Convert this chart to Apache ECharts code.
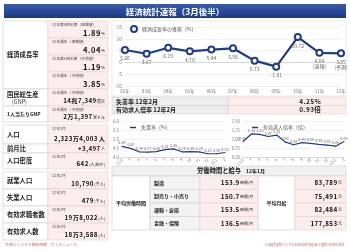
<!DOCTYPE html>
<html><head><meta charset="utf-8">
<script src="https://cdn.jsdelivr.net/npm/echarts@6/dist/echarts.min.js"></script>
<style>html,body{margin:0;padding:0;background:#fff}#c{width:350px;height:251px}</style>
</head><body><div id="c"></div>
<script>
// ---------- data ----------
const growthCategories = ['02年','03年','04年','05年','06年','07年','08年','09年','10年','11年','12年'];
const growthValues = [5.26,3.67,6.19,4.70,5.44,5.98,0.73,-1.81,10.72,4.04,3.85];
const growthNotes = ['','','','','','','','','','(速報)','(予測)'];
const monthCategories = ['11/2','3','4','5','6','7','8','9','10','11','12','12/1','2'];
const unemploymentRate = [4.59,4.48,4.29,4.27,4.30,4.41,4.45,4.29,4.30,4.28,4.18,4.18,4.25];
const jobOfferRatio = [0.93,1.14,1.13,1.07,1.11,0.92,0.84,0.90,0.88,0.85,0.83,0.80,0.93];

const leftHeads = ['経済成長率','国民総生産','1人当たりGNP','人口','前月比','人口密度','就業人口','失業人口','有効求職者数','有効求人数'];
const valueNotes = ['11年第4四半期（速報値）','11年通年（速報値）','12年第1四半期（予測値）','12年通年（予測値）','12年通年（予測値）','12年通年（予測値）','12年2月','','12年2月','12年2月','12年2月','12年2月','12年2月'];
const valueNumbers = ['1.89','4.04','1.19','3.85','14兆7,349','2万1,397','2,323万4,003','+3,497','642','10,790','479','19万8,022','18万3,588'];
const valueUnits = ['%','%','%','%','億元','米ドル','人','人','(人/km²)','(千人)','(千人)','(人)','(人)'];

const rateHeads = ['失業率 12年2月','有効求人倍率 12年2月'];
const rateValues = ['4.25%','0.93倍'];

const laborTitle = '労働時間と給与';
const laborMonth = '12年1月';
const laborIndustries = ['製造','卸売り・小売り','運輸・倉庫','金融・保険'];
const laborHours = ['153.9','150.7','153.5','136.5'];
const laborWages = ['83,789','75,491','82,484','177,853'];

// ---------- layout helpers ----------
const FF = "'Noto Sans CJK JP','Noto Sans',sans-serif";
const NAVY = '#1f3c88';
const PINK = '#fdeeee', PINKB = '#e9cccc', GRAYB = '#cfcfcf';
const sp = s => s.split('').join('\u200a');
const g = [];
function rect(x,y,w,h,fill,stroke){g.push({type:'rect',silent:true,shape:{x,y,width:w,height:h},style:{fill,stroke:stroke||GRAYB,lineWidth:0.6}});}
function text(x,y,t,size,opt){opt=opt||{};g.push({type:'text',silent:true,x,y,style:Object.assign({text:t,fontSize:size,fontFamily:FF,fill:opt.fill||'#222',fontWeight:opt.bold?'bold':'normal',align:opt.align||'left',verticalAlign:opt.va||'middle'},opt.extra||{})});}

// title bar
g.push({type:'rect',silent:true,shape:{x:4,y:4,width:342,height:14},style:{fill:new echarts.graphic.LinearGradient(0,0,0,1,[{offset:0,color:'#3a5cab'},{offset:1,color:'#1b3985'}])}});
text(175,11.5,'経済統計速報（3月後半）',8.5,{fill:'#fff',bold:true,align:'center'});

// left table rows [top,height]
const rows = [[21,17],[38,17],[55,17],[72,17],[89,17],[106,16],[125,19],[144,9],[153,16],[172,17],[189,17],[206,17],[223,17]];
const headRows = [[0,4],[4,1],[5,1],[6,1],[7,1],[8,1],[9,1],[10,1],[11,1],[12,1]];
const LX=3, LW=45, VX=48, VW=60;
headRows.forEach((hr,i)=>{
  const top=rows[hr[0]][0], last=rows[hr[0]+hr[1]-1], h=last[0]+last[1]-top;
  rect(LX,top,LW,h,'#fff');
  if(i===1){
    text(LX+4,top+h/2-3,leftHeads[i],6.3,{bold:true});
    text(LX+9,top+h/2+4,'(GNP)',5.5,{fill:'#333'});
  } else if(i===2){
    text(LX+4,top+h/2,leftHeads[i],5,{bold:true});
  } else {
    text(LX+4,top+h/2,leftHeads[i],6.3,{bold:true});
  }
});
rows.forEach((r,i)=>{
  rect(VX,r[0],VW,r[1],PINK,PINKB);
  if(valueNotes[i]) text(VX+4,r[0]+4,valueNotes[i],3.8,{fill:'#444'});
  const big = i===6;
  g.push({type:'text',silent:true,x:VX+VW-3,y:r[0]+r[1]-(r[1]<12?4.5:5),style:{
    text:'{n|'+sp(valueNumbers[i])+'}{u| '+valueUnits[i]+'}',align:'right',verticalAlign:'middle',fontFamily:FF,
    rich:{n:{fontSize:i<4?7.6:6.2,fontWeight:'bold',fill:'#111',fontFamily:FF},u:{fontSize:big?6.2:4,fontWeight:big?'bold':'normal',fill:'#111',fontFamily:FF}}}});
});

// top chart box
rect(112,21,234,75,'rgba(0,0,0,0)','#dcdcdc');

// rate rows
[[97,8.5],[105.5,8.5]].forEach((r,i)=>{
  rect(112,r[0],116,r[1],'#eeeeee');
  rect(228,r[0],118,r[1],PINK,PINKB);
  text(116,r[0]+r[1]/2,rateHeads[i],6,{bold:true});
  text(310,r[0]+r[1]/2,sp(rateValues[i]),6.5,{bold:true,align:'center'});
});

// labor table
const TX=112, TY=166;
rect(TX,TY,234,10,'#f1f1f1');
g.push({type:'text',silent:true,x:231,y:TY+5,style:{text:'{a|'+laborTitle+'}{b|　'+laborMonth+'}',align:'center',verticalAlign:'middle',fontFamily:FF,rich:{a:{fontSize:6.3,fontWeight:'bold',fill:'#111',fontFamily:FF},b:{fontSize:5,fontWeight:'bold',fill:'#111',fontFamily:FF}}}});
const cols=[112,150,200,258,295,346];
const rh=13.5, r0=TY+10;
rect(cols[0],r0,cols[1]-cols[0],rh*4,'#fff');
text((cols[0]+cols[1])/2,r0+rh*2,'平均労働時間',5,{bold:true,align:'center'});
rect(cols[3],r0,cols[4]-cols[3],rh*4,'#fff');
text((cols[3]+cols[4])/2,r0+rh*2,'平均月給',5,{bold:true,align:'center'});
laborIndustries.forEach((name,i)=>{
  const y=r0+i*rh;
  rect(cols[1],y,cols[2]-cols[1],rh,'#f3f3f3');
  text(cols[1]+4,y+rh/2,name,5,{bold:true});
  rect(cols[2],y,cols[3]-cols[2],rh,PINK,PINKB);
  g.push({type:'text',silent:true,x:cols[3]-5,y:y+rh/2,style:{text:'{n|'+sp(laborHours[i])+'}{u| 時間/月}',align:'right',verticalAlign:'middle',fontFamily:FF,rich:{n:{fontSize:6.3,fontWeight:'bold',fill:'#111',fontFamily:FF},u:{fontSize:3.8,fill:'#111',fontFamily:FF}}}});
  rect(cols[4],y,cols[5]-cols[4],rh,PINK,PINKB);
  g.push({type:'text',silent:true,x:cols[5]-4,y:y+rh/2,style:{text:'{n|'+sp(laborWages[i])+'}{u| 元}',align:'right',verticalAlign:'middle',fontFamily:FF,rich:{n:{fontSize:6.3,fontWeight:'bold',fill:'#111',fontFamily:FF},u:{fontSize:4,fill:'#111',fontFamily:FF}}}});
});

// footer
text(5,245,'台湾ビジネスの最新情報　ワイズニュース',3.8,{fill:'#c66'});
text(345,245,"Copyright (C) Y's consulting all right reserved.",3.8,{fill:'#c66',align:'right'});

// ---------- chart ----------
const axisLabelBase = {color:'#777',fontFamily:FF};
const chart = echarts.init(document.getElementById('c'),null,{renderer:'canvas'});
chart.setOption({
  animation:false,
  backgroundColor:'#fff',
  grid:[
    {left:125,top:27,width:216,height:59},
    {left:122,top:121,width:103,height:36},
    {left:243,top:121,width:101,height:36}
  ],
  legend:[
    {data:[{name:'経済成長率の推移（%）',icon:'emptyCircle'}],left:130,top:25,itemWidth:6,itemHeight:6,itemGap:4,padding:0,textStyle:{fontSize:5,color:'#555',fontFamily:FF}},
    {data:[{name:'失業率（%）',icon:'rect'}],left:130,top:125,itemWidth:6,itemHeight:1.5,padding:0,textStyle:{fontSize:5,color:'#555',fontFamily:FF}},
    {data:[{name:'有効求人倍率（倍）',icon:'rect'}],left:252,top:125,itemWidth:6,itemHeight:1.5,padding:0,textStyle:{fontSize:5,color:'#555',fontFamily:FF}}
  ],
  xAxis:[
    {gridIndex:0,type:'category',data:growthCategories,boundaryGap:false,axisTick:{show:false},axisLine:{lineStyle:{color:'#d8d8d8'}},axisLabel:Object.assign({fontSize:4.5,margin:3},axisLabelBase)},
    {gridIndex:1,type:'category',data:monthCategories,boundaryGap:false,axisTick:{show:false},axisLine:{lineStyle:{color:'#d8d8d8'}},axisLabel:Object.assign({fontSize:3.8,margin:2,rotate:45,interval:0},axisLabelBase)},
    {gridIndex:2,type:'category',data:monthCategories,boundaryGap:false,axisTick:{show:false},axisLine:{lineStyle:{color:'#d8d8d8'}},axisLabel:Object.assign({fontSize:3.8,margin:2,rotate:45,interval:0},axisLabelBase)}
  ],
  yAxis:[
    {gridIndex:0,type:'value',min:-10,max:15,interval:5,axisLabel:Object.assign({fontSize:5,margin:3},axisLabelBase),splitLine:{lineStyle:{color:'#e6e6e6',width:0.6}}},
    {gridIndex:1,type:'value',min:4,max:6,interval:0.5,axisLabel:Object.assign({fontSize:4.3,margin:3,formatter:v=>v.toFixed(1)},axisLabelBase),splitLine:{lineStyle:{color:'#e6e6e6',width:0.6}}},
    {gridIndex:2,type:'value',min:0.5,max:1.5,interval:0.25,axisLabel:Object.assign({fontSize:4.3,margin:3,formatter:v=>v.toFixed(2)},axisLabelBase),splitLine:{lineStyle:{color:'#e6e6e6',width:0.6}}}
  ],
  series:[
    {name:'経済成長率の推移（%）',type:'line',xAxisIndex:0,yAxisIndex:0,data:growthValues,symbol:'emptyCircle',symbolSize:6,
     lineStyle:{color:NAVY,width:2.2},itemStyle:{color:NAVY,borderWidth:1.6},
     label:{show:true,position:'bottom',distance:2,fontSize:5,lineHeight:5,color:'#666',fontFamily:FF,
       formatter:p=>p.value.toFixed(2)+(growthNotes[p.dataIndex]?'\n'+growthNotes[p.dataIndex]:'')}},
    {name:'失業率（%）',type:'line',xAxisIndex:1,yAxisIndex:1,data:unemploymentRate,symbol:'circle',symbolSize:1,showSymbol:true,
     lineStyle:{color:NAVY,width:1.2},itemStyle:{color:NAVY},
     label:{show:true,position:'top',distance:1,fontSize:3.8,color:'#666',fontFamily:FF,formatter:p=>p.value.toFixed(2)}},
    {name:'有効求人倍率（倍）',type:'line',xAxisIndex:2,yAxisIndex:2,data:jobOfferRatio,symbol:'circle',symbolSize:1,showSymbol:true,
     lineStyle:{color:NAVY,width:1.2},itemStyle:{color:NAVY},
     label:{show:true,position:'top',distance:1,fontSize:3.8,color:'#666',fontFamily:FF,formatter:p=>p.value.toFixed(2)}}
  ],
  graphic:g
});
</script></body></html>
